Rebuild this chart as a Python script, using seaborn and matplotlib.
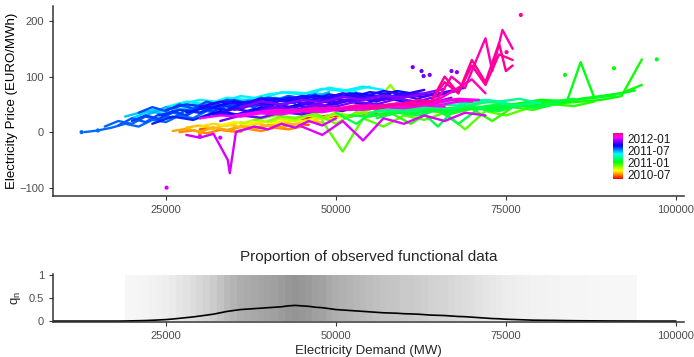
import numpy as np
import pandas as pd
import matplotlib
matplotlib.use('Agg')
import matplotlib.pyplot as plt
import matplotlib.dates as mdates
import matplotlib.colors as mcolors
import seaborn as sns

# ---- top panel: daily price/demand curves (demand in 1000 MW, price in EURO/MWh)
early_days = ['2010-05-10', '2010-05-25', '2010-06-15', '2010-07-10', '2010-07-25',
              '2010-08-05', '2010-08-20', '2010-09-01']
early_demand = [[44, 46, 48, 50, 52, 54, 56, 58],
                [46, 49, 52, 55, 58],
                [30, 32, 34, 36, 38, 40, 42, 44, 46],
                [27, 29, 31, 33, 35, 37, 39, 41, 43, 45],
                [26, 28, 30, 32, 34, 36, 38, 40, 42, 44],
                [28, 30, 32, 34, 36, 38, 40, 42, 44, 46, 48],
                [30, 32, 34, 36, 38, 40, 42, 44, 46, 48, 50],
                [33, 35, 37, 39, 41, 43, 45, 47, 49, 51]]
early_price = [[22, 26, 24, 30, 28, 33, 30, 35],
               [25, 30, 28, 34, 32],
               [5, 8, 3, 10, 7, 12, 9, 15, 13],
               [0, 3, -2, 4, 1, 6, 2, 8, 5, 10],
               [2, 6, 1, 8, 4, 10, 6, 12, 9, 14],
               [8, 12, 6, 14, 9, 16, 11, 18, 14, 20, 17],
               [10, 15, 11, 18, 13, 20, 16, 22, 18, 25, 22],
               [12, 18, 14, 20, 16, 24, 19, 26, 22, 28]]

winter_days = ['2010-10-10', '2010-11-05', '2010-11-20', '2010-12-01', '2010-12-20',
               '2011-01-05', '2011-01-12', '2011-01-20', '2011-01-28', '2011-02-05',
               '2011-02-12', '2011-02-20']
winter_demand = [[36, 38, 40, 42, 44, 46, 48, 50, 52, 54],
                 [40, 42, 44, 46, 48, 50, 52, 55, 58, 61],
                 [38, 41, 44, 47, 50, 53, 56, 59, 62],
                 [48, 51, 54, 57, 60, 63, 66, 69, 72, 75, 78],
                 [55, 58, 61, 64, 67, 70, 73, 76, 79, 82, 85, 88],
                 [62, 65, 68, 71, 74, 77, 80, 83, 86, 89, 92, 95],
                 [65, 68, 71, 74, 77, 80, 83, 86, 89, 92, 95],
                 [60, 64, 68, 72, 76, 80, 84, 86, 88, 91, 94],
                 [58, 61, 64, 67, 70, 73, 76, 79, 82, 85, 88, 91],
                 [52, 55, 58, 61, 64, 67, 70, 73, 76, 79, 82, 85],
                 [56, 59, 62, 65, 68, 71, 74, 77, 80, 83],
                 [50, 53, 56, 59, 62, 65, 68, 71, 74, 77, 80]]
winter_price = [[15, 22, 18, 25, 20, 30, 24, 32, 28, 34],
                [20, 28, 24, 32, 26, 35, 30, 40, 85, 38],
                [22, 30, 26, 34, 15, 36, 30, 40, 35],
                [20, -35, 25, 10, 30, 22, 35, 5, 38, 30, 42],
                [30, 35, 15, 38, 33, 42, 20, 45, 40, 50, 47, 55],
                [35, 40, 38, 45, 42, 48, 45, 52, 55, 58, 65, 131],
                [40, 45, 42, 50, 48, 55, 52, 60, 65, 70, 85],
                [40, 45, 42, 55, 50, 58, 56, 126, 62, 68, 75],
                [35, 38, 42, 40, 46, 44, 50, 48, 55, 58, 62, 66],
                [30, 28, 36, 33, 40, 35, 45, 38, 50, 44, 55, 60],
                [25, 35, 30, 40, 15, 42, 38, 48, 45, 52],
                [35, 15, 40, 38, 44, 10, 48, 45, 50, 48, 55]]

spring_days = ['2011-03-10', '2011-03-25', '2011-04-05', '2011-05-10', '2011-05-25',
               '2011-06-05', '2011-06-15', '2011-06-25']
spring_demand = [[55, 58, 61, 64, 67, 70, 73, 76, 79],
                 [62, 65, 68, 71, 74, 77, 80],
                 [45, 48, 51, 54, 57, 60, 63, 66, 69, 72, 75],
                 [25, 28, 31, 34, 37, 40, 43, 46, 49, 52, 55],
                 [27, 30, 33, 36, 39, 42, 45, 48, 51, 54, 57],
                 [20, 23, 26, 29, 32, 35, 38, 41, 44, 47, 50, 53],
                 [19, 22, 25, 28, 31, 34, 37, 40, 43],
                 [22, 25, 28, 31, 34, 37, 40, 43, 46, 49]]
spring_price = [[35, 40, 38, 45, 42, 50, 55, 48, 52],
                [45, 50, 48, 58, 55, 60, 52],
                [40, 45, 42, 50, 46, 52, 48, 55, 52, 58, 54],
                [45, 55, 50, 62, 58, 68, 72, 70, 80, 74, 82],
                [50, 58, 54, 65, 60, 72, 68, 78, 74, 82, 76],
                [25, 40, 35, 50, 45, 55, 52, 62, 58, 70, 65, 72],
                [28, 38, 32, 45, 40, 52, 48, 58, 54],
                [30, 45, 38, 52, 48, 58, 55, 65, 60, 72]]

summer_days = ['2011-08-01', '2011-08-05', '2011-08-10', '2011-08-15', '2011-08-20',
               '2011-08-25', '2011-08-30', '2011-09-05', '2011-09-12', '2011-09-18',
               '2011-09-25']
summer_demand = [[13, 15, 17, 19, 21, 23, 25, 27, 29, 31, 33],
                 [16, 18, 20, 22, 24, 26, 28, 30, 32, 34, 36],
                 [18, 20, 22, 24, 26, 28, 30, 32, 34, 36, 38, 40],
                 [21, 23, 25, 27, 29, 31, 33, 35, 37, 39, 41, 43, 45, 47],
                 [20, 22, 24, 26, 28, 30, 32, 34, 36, 38, 40, 42, 44],
                 [25, 28, 31, 34, 37, 40, 43, 46, 49, 52, 55],
                 [24, 27, 30, 33, 36, 39, 42, 45, 48, 51, 54],
                 [23, 26, 29, 32, 35, 38, 41, 44, 47, 50],
                 [28, 31, 34, 37, 40, 43, 46, 49, 52, 55, 58],
                 [32, 35, 38, 41, 44, 47, 50, 53, 56, 59, 62],
                 [30, 33, 36, 39, 42, 45, 48, 51, 54, 57, 60]]
summer_price = [[0, 3, 8, 15, 10, 22, 18, 30, 25, 38, 33],
                [10, 20, 15, 28, 22, 35, 30, 42, 38, 48, 44],
                [12, 25, 18, 32, 25, 40, 35, 45, 40, 50, 45, 55],
                [35, 45, 38, 50, 42, 55, 48, 58, 52, 62, 55, 65, 60, 68],
                [20, 30, 24, 38, 30, 45, 38, 50, 44, 55, 48, 58, 52],
                [40, 50, 45, 58, 52, 62, 58, 66, 60, 70, 65],
                [30, 40, 35, 48, 42, 55, 50, 60, 55, 65, 60],
                [15, 28, 22, 35, 30, 42, 38, 48, 44, 52],
                [35, 45, 40, 55, 50, 62, 56, 68, 62, 72, 68],
                [45, 55, 50, 60, 55, 66, 60, 70, 65, 74, 68],
                [25, 38, 30, 45, 40, 52, 45, 58, 50, 62, 55]]

autumn_days = ['2011-10-12', '2011-10-20', '2011-10-28', '2011-11-04', '2011-11-12',
               '2011-11-20', '2011-11-28', '2011-12-05']
autumn_demand = [[30, 33, 36, 39, 42, 45, 48, 51, 54, 57, 60, 63],
                 [32, 35, 38, 41, 44, 47, 50, 53, 56, 59, 62, 65],
                 [45, 48, 51, 54, 57, 60, 63, 66, 69],
                 [35, 38, 41, 44, 47, 50, 53, 56, 59, 62, 65, 68],
                 [33, 36, 39, 42, 45, 48, 51, 54, 57, 60],
                 [38, 41, 44, 47, 50, 53, 56, 59, 62, 65],
                 [36, 39, 42, 45, 48, 51, 54, 57, 60, 63, 66],
                 [40, 43, 46, 49, 52, 55, 58, 61, 64, 67]]
autumn_price = [[45, 55, 50, 60, 56, 65, 60, 70, 64, 74, 68, 76],
                [30, 42, 36, 50, 44, 58, 50, 62, 55, 68, 60, 72],
                [50, 58, 54, 62, 58, 68, 64, 72, 80],
                [40, 50, 45, 55, 50, 60, 56, 65, 60, 70, 66, 75],
                [20, 30, 26, 36, 32, 42, 38, 48, 44, 52],
                [35, 45, 40, 50, 46, 55, 50, 60, 55, 65],
                [45, 55, 50, 58, 54, 64, 58, 66, 62, 70, 78],
                [30, 40, 35, 45, 40, 50, 46, 56, 52, 62]]

late_days = ['2012-01-05', '2012-01-10', '2012-01-20', '2012-01-28', '2012-02-05',
             '2012-02-15', '2012-02-25', '2012-03-05', '2012-03-12', '2012-03-20']
late_demand = [[28, 30, 32, 34.1, 34.4, 35.3, 38, 40, 42, 44, 46, 48, 50],
               [45, 48, 51, 54, 57, 60, 63, 66, 69, 72],
               [30, 33, 36, 39, 42, 45, 48, 51, 54, 57, 60, 63, 66],
               [35, 38, 41, 44, 47, 50, 53, 56, 59, 62, 65, 68, 71],
               [38, 41, 44, 47, 50, 53, 56, 59, 62, 65, 68, 71],
               [40, 43, 46, 49, 52, 55, 58, 61, 64, 67, 70],
               [44, 47, 50, 53, 56, 59, 62, 65, 68, 70, 72],
               [50, 53, 56, 59, 62, 65, 67, 69, 71, 72, 73, 74.5, 76],
               [55, 58, 61, 64, 66, 68, 70, 72, 74, 76],
               [60, 62, 64, 66, 68, 70, 72, 74, 75, 76]]
late_price = [[-5, -10, -3, -50, -74, 0, 10, 5, 15, 8, 20, 12, 25],
              [10, -5, 20, -15, 25, 15, 30, 20, 35, 30],
              [25, 30, 28, 34, 32, 38, 36, 42, 40, 45, 43, 48, 46],
              [30, 35, 33, 40, 38, 42, 40, 46, 44, 50, 48, 55, 58],
              [35, 40, 38, 44, 42, 48, 46, 50, 48, 55, 60, 58],
              [35, 40, 38, 44, 42, 48, 46, 52, 50, 58, 55],
              [38, 44, 42, 48, 46, 52, 50, 58, 80, 95, 70],
              [40, 45, 42, 50, 48, 60, 100, 80, 140, 169, 110, 184, 150],
              [45, 50, 48, 55, 90, 70, 120, 85, 140, 130],
              [50, 58, 55, 100, 70, 130, 90, 160, 110, 120]]

# isolated observations
point_days = ['2010-07-20', '2010-07-20', '2011-01-10', '2011-01-10', '2011-01-25',
              '2011-11-15', '2011-11-15', '2011-11-15', '2011-11-20', '2011-11-25', '2011-11-25',
              '2012-01-08', '2012-01-08', '2012-01-08', '2012-03-15', '2012-03-15', '2011-08-01', '2011-08-01']
point_demand = [30, 36, 83.7, 90.9, 97.2,
                61.3, 62.6, 62.9, 63.8, 67.0, 67.8,
                25.1, 30, 33, 77.2, 75.1, 12.6, 15]
point_price = [-3, 2, 103, 115, 131,
               117, 110, 101, 103, 110, 108,
               -100, -8, -10, 211, 144, 0, 3]

# ---- bottom panel: proportion of observed functional data
qn_demand = [8, 10, 12, 14, 16, 18, 19, 20, 21, 22, 23, 24, 25, 26, 27, 28, 29, 30, 31, 32, 33,
             34, 35, 36, 37, 38, 39, 40, 41, 42, 43, 44, 45, 46, 47, 48, 49, 50, 51, 52, 53,
             54, 55, 56, 57, 58, 59, 60, 61, 62, 63, 64, 65, 66, 67, 68, 69, 70, 71, 72, 73,
             74, 75, 76, 77, 78, 79, 80, 82, 84, 86, 88, 90, 92, 94, 96, 98, 100]
qn_value = [0, 0, 0, 0, 0, 0, 0.002, 0.005, 0.008, 0.012, 0.018, 0.025, 0.033, 0.045, 0.06,
            0.075, 0.09, 0.11, 0.13, 0.15, 0.18, 0.21, 0.23, 0.25, 0.26, 0.27, 0.28, 0.29,
            0.30, 0.31, 0.33, 0.34, 0.33, 0.32, 0.30, 0.29, 0.27, 0.25, 0.24, 0.23, 0.22,
            0.21, 0.20, 0.19, 0.18, 0.175, 0.17, 0.16, 0.155, 0.15, 0.14, 0.13, 0.125, 0.12,
            0.11, 0.10, 0.095, 0.085, 0.075, 0.065, 0.055, 0.05, 0.04, 0.035, 0.03, 0.025,
            0.02, 0.018, 0.015, 0.01, 0.007, 0.005, 0.003, 0.002, 0.001, 0, 0, 0]

color_ticks = ['2010-07-01', '2011-01-01', '2011-07-01', '2012-01-01']
color_labels = ['2010-07', '2011-01', '2011-07', '2012-01']
date_start, date_end = '2010-05-01', '2012-03-31'

rows = []
cid = 0
for days, dem, pri in [(early_days, early_demand, early_price),
                       (winter_days, winter_demand, winter_price),
                       (spring_days, spring_demand, spring_price),
                       (summer_days, summer_demand, summer_price),
                       (autumn_days, autumn_demand, autumn_price),
                       (late_days, late_demand, late_price)]:
    for d, xs, ys in zip(days, dem, pri):
        for x, y in zip(xs, ys):
            rows.append({'curve': cid, 't': mdates.datestr2num(d), 'demand': x * 1000, 'price': y})
        cid += 1
curves = pd.DataFrame(rows)
points = pd.DataFrame({'t': mdates.datestr2num(point_days),
                       'demand': np.array(point_demand) * 1000, 'price': point_price})
qn = pd.DataFrame({'demand': np.array(qn_demand) * 1000, 'q': qn_value})

t0, t1 = mdates.datestr2num(date_start), mdates.datestr2num(date_end)
cmap = mcolors.ListedColormap(plt.cm.hsv(np.linspace(0, 0.93, 256)))

sns.set_style('ticks')
plt.rcParams['font.family'] = ['Liberation Sans', 'DejaVu Sans']

fig = plt.figure(figsize=(6.94, 3.57), dpi=100)
ax1 = fig.add_axes([0.0764, 0.451, 0.9092, 0.532])
ax2 = fig.add_axes([0.0764, 0.098, 0.9092, 0.1345])

sns.lineplot(data=curves, x='demand', y='price', hue='t', units='curve', estimator=None,
             sort=False, palette=cmap, hue_norm=(t0, t1), legend=False, lw=1.7, ax=ax1)
sns.scatterplot(data=points, x='demand', y='price', hue='t', palette=cmap, hue_norm=(t0, t1),
                s=9, linewidth=0, legend=False, ax=ax1)

xlim = (8400, 101200)
ax1.set_xlim(xlim)
ax1.set_ylim(-115, 227)
ax1.set_xticks([25000, 50000, 75000, 100000])
ax1.set_yticks([-100, 0, 100, 200])
ax1.set_xlabel('')
ax1.set_ylabel('Electricity Price (EURO/MWh)', fontsize=9.5, color='black', labelpad=1)

# grey strips + q_n line
qs = qn[(qn['demand'] >= 19000) & (qn['demand'] <= 94000)]
edges = np.concatenate([[19000], (qs['demand'].values[1:] + qs['demand'].values[:-1]) / 2, [94300]])
grey = mcolors.LinearSegmentedColormap.from_list('g', [(0.97, 0.97, 0.97), (0.58, 0.58, 0.58)])
ax2.pcolormesh(edges, [0, 1], qs['q'].values[None, :], cmap=grey, vmin=0, vmax=0.34)
sns.lineplot(data=qn, x='demand', y='q', color='black', lw=1.2, ax=ax2)
ax2.set_xlim(xlim)
ax2.set_ylim(-0.02, 1.02)
ax2.set_xticks([25000, 50000, 75000, 100000])
ax2.set_yticks([0, 0.5, 1])
ax2.set_yticklabels(['0', '0.5', '1'])
ax2.set_ylabel(r'$\mathregular{q_n}$', fontsize=9.5, labelpad=4)
ax2.set_xlabel('Electricity Demand (MW)', fontsize=9.5, labelpad=3)
ax2.set_title('Proportion of observed functional data', fontsize=11, pad=9)

for ax in (ax1, ax2):
    sns.despine(ax=ax)
    for s in ('left', 'bottom'):
        ax.spines[s].set_color('#333333')
        ax.spines[s].set_linewidth(1.1)
    ax.tick_params(labelsize=8, labelcolor='#4D4D4D', color='#333333', length=3, width=0.8)

# colour bar legend
cax = fig.add_axes([0.883, 0.4986, 0.0144, 0.129])
sm = plt.cm.ScalarMappable(norm=mcolors.Normalize(t0, t1), cmap=cmap)
cb = fig.colorbar(sm, cax=cax)
cb.outline.set_visible(False)
cb.set_ticks(mdates.datestr2num(color_ticks))
cb.set_ticklabels(color_labels)
cax.tick_params(labelsize=8.5, labelcolor='#1A1A1A', color='white', length=2.5, width=0.6,
                direction='in', pad=3)

fig.savefig('out.png', dpi=100)
